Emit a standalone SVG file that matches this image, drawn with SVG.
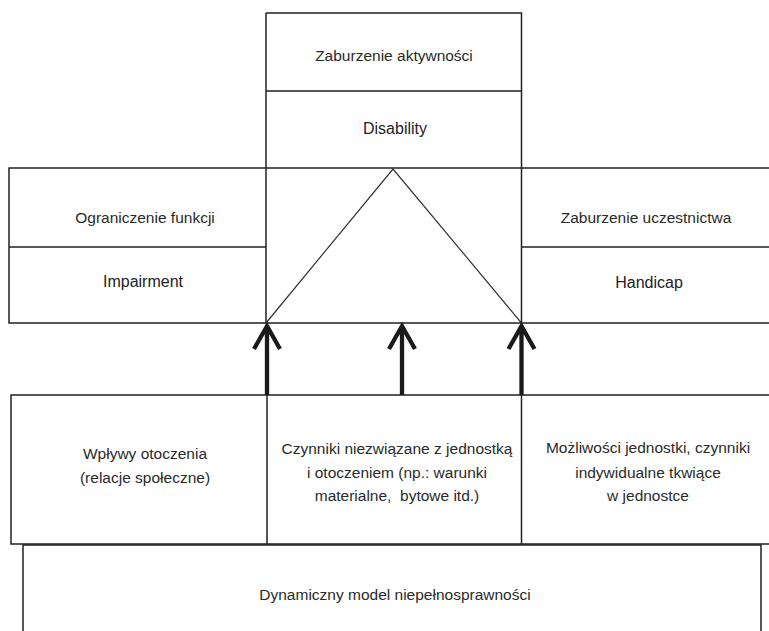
<svg xmlns="http://www.w3.org/2000/svg" width="769" height="631" viewBox="0 0 769 631">
<style>
.box{fill:none;stroke:#222;stroke-width:1.5}
.thin{fill:none;stroke:#333;stroke-width:1.2}
.pl{font-family:"Liberation Sans",Arial,sans-serif;font-size:15.5px;fill:#2a2a2a;text-anchor:middle}
.en{font-family:"Liberation Sans",Arial,sans-serif;font-size:16px;fill:#222;text-anchor:middle}
.arrow{fill:none;stroke:#1a1a1a;stroke-width:4.3;stroke-linecap:butt;stroke-linejoin:miter}
</style>
<rect width="769" height="631" fill="#fff"/>
<g id="activity">
  <path class="box" d="M266,13 H521.5 V168 M266,13 V168 M266,91 H521.5"/>
  <text class="pl" x="394" y="61">Zaburzenie aktywności</text>
  <text class="en" x="395" y="134">Disability</text>
</g>
<g id="impairment">
  <path class="box" d="M9,168 H266 V323 H9 Z M9,247 H266"/>
  <text class="pl" x="145" y="223">Ograniczenie funkcji</text>
  <text class="en" x="143" y="287">Impairment</text>
</g>
<g id="center">
  <path class="box" d="M266,168 H521.5 M266,323 H521.5"/>
  <path class="thin" d="M266,323 L393,169 L521.5,323"/>
</g>
<g id="handicap">
  <path class="box" d="M521.5,168 H769 M521.5,168 V323 H769 M521.5,247 H769"/>
  <text class="pl" x="646" y="223">Zaburzenie uczestnictwa</text>
  <text class="en" x="649" y="288">Handicap</text>
</g>
<g id="env">
  <path class="box" d="M267,395 H11 V544 H267 Z"/>
  <text class="pl" x="145" y="459">Wpływy otoczenia</text>
  <text class="pl" x="145" y="483">(relacje społeczne)</text>
</g>
<g id="external">
  <path class="box" d="M267,395 H521.5 V544 H267"/>
  <text class="pl" x="397" y="454">Czynniki niezwiązane z jednostką</text>
  <text class="pl" x="397" y="478">i otoczeniem (np.: warunki</text>
  <text class="pl" x="397" y="501">materialne,&#160; bytowe itd.)</text>
</g>
<g id="individual">
  <path class="box" d="M521.5,395 H769 M521.5,544 H769"/>
  <text class="pl" x="648" y="453">Możliwości jednostki, czynniki</text>
  <text class="pl" x="648" y="478">indywidualne tkwiące</text>
  <text class="pl" x="648" y="501">w jednostce</text>
</g>
<g id="model">
  <path class="box" d="M23,631 V545 H761 V631"/>
  <text class="pl" x="395" y="600">Dynamiczny model niepełnosprawności</text>
</g>
<g id="connectors">
  <path class="arrow" d="M267,395 V326 M254,349 L267,326 L280,349"/>
  <path class="arrow" d="M402,395 V326 M389,349 L402,326 L415,349"/>
  <path class="arrow" d="M521.5,395 V326 M508.5,349 L521.5,326 L534.5,349"/>
</g>
</svg>
